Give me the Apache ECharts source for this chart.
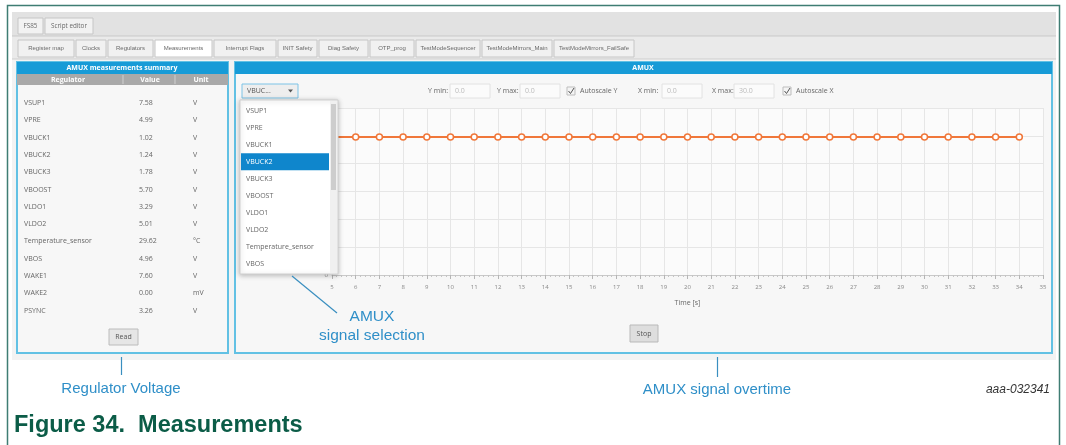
<!DOCTYPE html>
<html>
<head>
<meta charset="utf-8">
<title>Measurements</title>
<script src="https://cdn.jsdelivr.net/npm/echarts@6.0.0/dist/echarts.min.js"></script>
<style>
  html, body { margin: 0; padding: 0; background: #fff; }
  #chart { width: 1066px; height: 445px; }
</style>
</head>
<body>
<div id="chart"></div>
<script>
// data
const topTabs = ['FS85', 'Script editor']
const mainTabs = ['Register map', 'Clocks', 'Regulators', 'Measurements', 'Interrupt Flags', 'INIT Safety',
  'Diag Safety', 'OTP_prog', 'TestModeSequencer', 'TestModeMirrors_Main', 'TestModeMirrors_FailSafe']
const regulators = ['VSUP1', 'VPRE', 'VBUCK1', 'VBUCK2', 'VBUCK3', 'VBOOST', 'VLDO1', 'VLDO2',
  'Temperature_sensor', 'VBOS', 'WAKE1', 'WAKE2', 'PSYNC']
const regValues = [7.58, 4.99, 1.02, 1.24, 1.78, 5.70, 3.29, 5.01, 29.62, 4.96, 7.60, 0.00, 3.26]
const regUnits = ['V', 'V', 'V', 'V', 'V', 'V', 'V', 'V', '°C', 'V', 'V', 'mV', 'V']
const signalList = ['VSUP1', 'VPRE', 'VBUCK1', 'VBUCK2', 'VBUCK3', 'VBOOST', 'VLDO1', 'VLDO2',
  'Temperature_sensor', 'VBOS']
const selectedSignal = 'VBUCK2'
const timeSec = [5, 6, 7, 8, 9, 10, 11, 12, 13, 14, 15, 16, 17, 18, 19, 20, 21, 22, 23, 24,
  25, 26, 27, 28, 29, 30, 31, 32, 33, 34]
const vbuck2Volts = [1.24, 1.24, 1.24, 1.24, 1.24, 1.24, 1.24, 1.24, 1.24, 1.24, 1.24, 1.24, 1.24, 1.24, 1.24,
  1.24, 1.24, 1.24, 1.24, 1.24, 1.24, 1.24, 1.24, 1.24, 1.24, 1.24, 1.24, 1.24, 1.24, 1.24]

// layout (tab edges in px)
const topTabEdges = [[18, 43], [45, 93]]
const mainTabEdges = [[18, 74], [76, 106], [108, 153], [155, 212], [214, 276], [278, 317], [319, 368],
  [370, 414], [416, 480], [482, 552], [554, 634]]

const UI_FONT = '"Open Sans", "Noto Sans", sans-serif'
const ANN_FONT = '"Liberation Sans", Arial, sans-serif'
const ANN_BLUE = '#2f8fc8'
const PANEL_BLUE = '#179bd7'
const PANEL_EDGE = '#62c1e4'

const els = []
function rect(x, y, w, h, fill, stroke, z, extra) {
  els.push(Object.assign({
    type: 'rect', silent: true, z: z,
    shape: { x: x, y: y, width: w, height: h },
    style: { fill: fill, stroke: stroke || null, lineWidth: 1 }
  }, extra || {}))
}
function txt(x, y, s, fill, font, align, z) {
  els.push({
    type: 'text', silent: true, z: z, x: x, y: y,
    style: { text: s, fill: fill, font: font, textAlign: align || 'left', textVerticalAlign: 'middle' }
  })
}
function line(x1, y1, x2, y2, stroke, lw, z) {
  els.push({
    type: 'line', silent: true, z: z,
    shape: { x1: x1, y1: y1, x2: x2, y2: y2 },
    style: { stroke: stroke, lineWidth: lw || 1 }
  })
}

// screenshot background + tab bars
rect(12, 12, 1044, 348, '#f3f3f3', null, -10)
rect(12, 12, 1044, 24, '#e2e2e2', null, -9)
rect(12, 36, 1044, 23, '#eaeaea', null, -9)
line(12, 36, 1056, 36, '#c9c9c9', 1, -8)
line(12, 59, 1056, 59, '#cfcfcf', 1, -8)
topTabs.forEach(function (t, i) {
  const e = topTabEdges[i]
  rect(e[0], 18, e[1] - e[0], 16, '#f2f2f2', '#c6c6c6', -7)
  txt((e[0] + e[1]) / 2, 26, t, '#6a6a6a', '6.3px ' + UI_FONT, 'center', -6)
})
mainTabs.forEach(function (t, i) {
  const e = mainTabEdges[i]
  const sel = t === 'Measurements'
  rect(e[0], 40, e[1] - e[0], 17, sel ? '#ffffff' : '#f1f1f1', '#c6c6c6', -7)
  txt((e[0] + e[1]) / 2, 48.5, t, '#6a6a6a', '6px ' + ANN_FONT, 'center', -6)
})

// left panel: AMUX measurements summary
rect(17, 62, 211, 291, '#f7f7f7', PANEL_EDGE, -7, { style: { fill: '#f7f7f7', stroke: PANEL_EDGE, lineWidth: 2 } })
rect(17, 62, 211, 12, PANEL_BLUE, null, -6)
txt(122, 68, 'AMUX measurements summary', '#fff', 'bold 7px ' + UI_FONT, 'center', -5)
rect(17, 74, 211, 11, '#a9a9a9', null, -6)
txt(68, 79.5, 'Regulator', '#fff', 'bold 7px ' + UI_FONT, 'center', -5)
txt(150, 79.5, 'Value', '#fff', 'bold 7px ' + UI_FONT, 'center', -5)
txt(201, 79.5, 'Unit', '#fff', 'bold 7px ' + UI_FONT, 'center', -5)
line(123, 75, 123, 84, '#d0d0d0', 1, -5)
line(175, 75, 175, 84, '#d0d0d0', 1, -5)
regulators.forEach(function (r, i) {
  const y = 103 + i * 17.3
  txt(24, y, r, '#666', '7px ' + UI_FONT, 'left', -5)
  txt(139, y, regValues[i].toFixed(2), '#666', '7px ' + UI_FONT, 'left', -5)
  txt(193, y, regUnits[i], '#666', '7px ' + UI_FONT, 'left', -5)
})
rect(109, 329, 29, 16, '#e6e6e6', '#bcbcbc', -5)
txt(123.5, 337, 'Read', '#555', '7px ' + UI_FONT, 'center', -4)

// right panel: AMUX
rect(235, 62, 817, 291, '#f7f7f7', PANEL_EDGE, -7, { style: { fill: '#f7f7f7', stroke: PANEL_EDGE, lineWidth: 2 } })
rect(235, 62, 817, 12, PANEL_BLUE, null, -6)
txt(643, 68, 'AMUX', '#fff', 'bold 7px ' + UI_FONT, 'center', -5)

// toolbar
function field(lx, label, bx, val) {
  txt(lx, 91, label, '#666', '7px ' + UI_FONT, 'left', -5)
  rect(bx, 84, 40, 14, '#fbfbfb', '#e2e2e2', -5)
  txt(bx + 5, 91, val, '#bbb', '7px ' + UI_FONT, 'left', -4)
}
function check(x, label) {
  rect(x, 87, 8, 8, '#f4f4f4', '#bdbdbd', -5)
  els.push({ type: 'polyline', silent: true, z: -4,
    shape: { points: [[x + 1.5, 91], [x + 3.5, 93.5], [x + 7, 88]] },
    style: { stroke: '#555', lineWidth: 1, fill: null } })
  txt(x + 13, 91, label, '#666', '7px ' + UI_FONT, 'left', -5)
}
field(428, 'Y min:', 450, '0.0')
field(497, 'Y max:', 520, '0.0')
check(567, 'Autoscale Y')
field(638, 'X min:', 662, '0.0')
field(712, 'X max:', 734, '30.0')
check(783, 'Autoscale X')

// stop button
rect(630, 325, 28, 17, '#dedede', '#b9b9b9', -5)
txt(644, 333.5, 'Stop', '#555', '7px ' + UI_FONT, 'center', -4)

// signal dropdown (drawn over the chart)
rect(242, 84, 56, 14, '#eeeeee', '#7cc3e6', 50)
txt(247, 91, 'VBUC...', '#555', '7px ' + UI_FONT, 'left', 51)
els.push({ type: 'polygon', silent: true, z: 51,
  shape: { points: [[288, 89.5], [293, 89.5], [290.5, 92.5]] }, style: { fill: '#555' } })
rect(240, 100, 98, 174, '#ffffff', '#cfcfcf', 50,
  { style: { fill: '#fff', stroke: '#cfcfcf', lineWidth: 1, shadowBlur: 5, shadowColor: 'rgba(0,0,0,0.25)', shadowOffsetY: 1 } })
rect(330, 101, 7, 172, '#f0f0f0', null, 51)
rect(331, 104, 5, 86, '#cdcdcd', null, 52)
signalList.forEach(function (s, i) {
  const y = 110.5 + i * 17.1
  if (s === selectedSignal) rect(241, y - 8.5, 88, 17, '#0f86cc', null, 51)
  txt(246, y, s, s === selectedSignal ? '#fff' : '#666', '7px ' + UI_FONT, 'left', 53)
})

// annotations
line(292, 276, 337, 313, '#3a8fc0', 1.2, 60)
txt(372, 317, 'AMUX', ANN_BLUE, '15.5px ' + ANN_FONT, 'center', 60)
txt(372, 336, 'signal selection', ANN_BLUE, '15.5px ' + ANN_FONT, 'center', 60)
line(121.5, 357, 121.5, 375, '#3a8fc0', 1.2, 60)
txt(121, 389, 'Regulator Voltage', ANN_BLUE, '15px ' + ANN_FONT, 'center', 60)
line(717.5, 357, 717.5, 377, '#3a8fc0', 1.2, 60)
txt(717, 390, 'AMUX signal overtime', ANN_BLUE, '15px ' + ANN_FONT, 'center', 60)
txt(1050, 390, 'aaa-032341', '#333', 'italic 12px ' + ANN_FONT, 'right', 60)

// document frame + caption
els.push({ type: 'polyline', silent: true, z: 60,
  shape: { points: [[7.5, 445], [7.5, 5.5], [1059.5, 5.5], [1059.5, 445]] },
  style: { stroke: '#3f7d73', lineWidth: 1.5, fill: null } })
txt(14, 426, 'Figure 34.  Measurements', '#0b5c47', 'bold 23.5px ' + ANN_FONT, 'left', 60)

const chart = echarts.init(document.getElementById('chart'), null, { renderer: 'canvas' })
chart.setOption({
  backgroundColor: '#ffffff',
  animation: false,
  graphic: { elements: els },
  grid: {
    left: 332, right: 23, top: 108, bottom: 170,
    show: true, backgroundColor: '#fbfbfb', borderWidth: 0
  },
  xAxis: {
    type: 'value', min: 5, max: 35, interval: 1,
    name: 'Time [s]', nameLocation: 'middle', nameGap: 24,
    nameTextStyle: { color: '#666', fontSize: 7, fontFamily: 'Open Sans' },
    axisLine: { lineStyle: { color: '#c9c9c9' } },
    axisTick: { length: 4, lineStyle: { color: '#b5b5b5' } },
    minorTick: { show: true, splitNumber: 5, length: 2, lineStyle: { color: '#c5c5c5' } },
    axisLabel: { color: '#888', fontSize: 6, margin: 9, fontFamily: 'Open Sans' },
    splitLine: { lineStyle: { color: '#e6e6e6' } }
  },
  yAxis: {
    type: 'value', min: 0, max: 1.5, interval: 0.25,
    axisLine: { show: false },
    axisTick: { show: false },
    axisLabel: { color: '#888', fontSize: 6, margin: 4, fontFamily: 'Open Sans' },
    splitLine: { lineStyle: { color: '#e6e6e6' } }
  },
  series: [{
    type: 'line',
    data: timeSec.map(function (t, i) { return [t, vbuck2Volts[i]] }),
    symbol: 'circle', symbolSize: 6,
    lineStyle: { color: '#f0773a', width: 2 },
    itemStyle: { color: '#ffffff', borderColor: '#f0773a', borderWidth: 1.5 },
    z: 5
  }]
})
</script>
</body>
</html>
